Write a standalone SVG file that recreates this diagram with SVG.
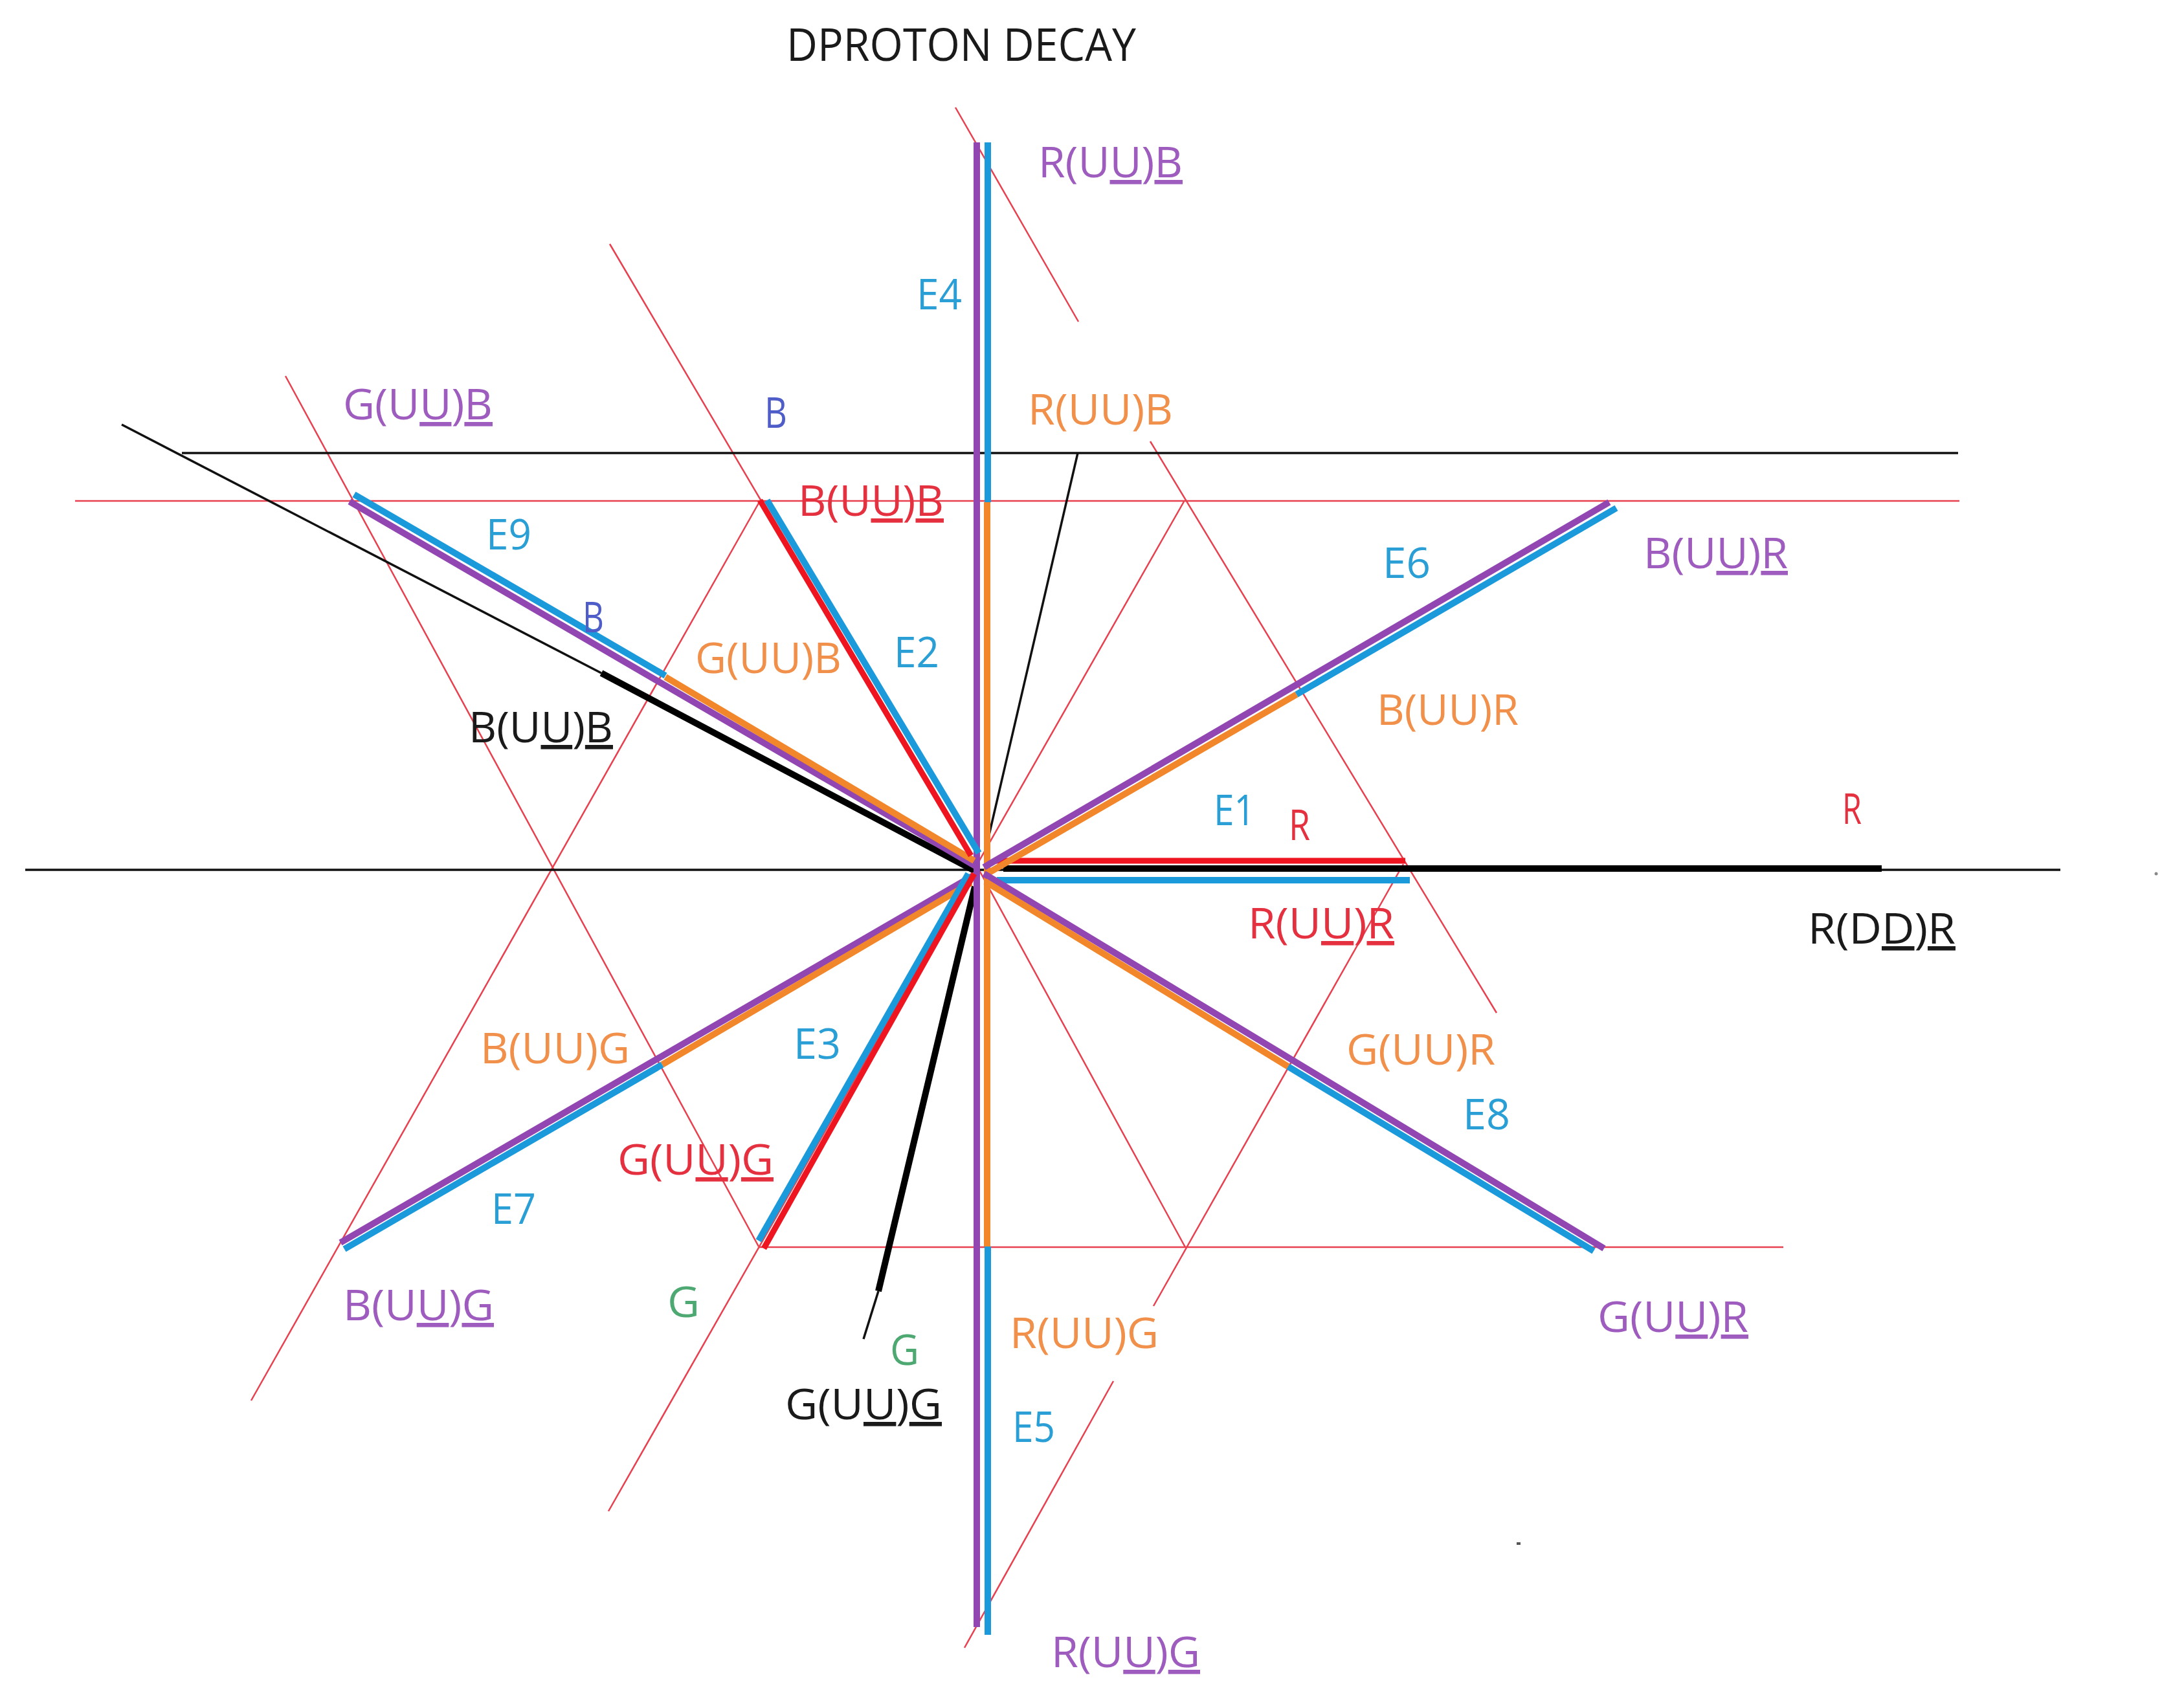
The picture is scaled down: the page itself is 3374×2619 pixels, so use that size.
<svg xmlns="http://www.w3.org/2000/svg" width="3374" height="2619" viewBox="0 0 3374 2619">
<style>
.tr2{stroke:#E8404F;stroke-width:2.5;fill:none}
.tk{stroke:#111;stroke-width:3.5;fill:none}
.pu{stroke:#9146B2;stroke-width:10}
.bl{stroke:#1B9ADB;stroke-width:10}
.or{stroke:#F2862A;stroke-width:10}
.rd{stroke:#EE1520;stroke-width:9}
.bk{stroke:#000;stroke-width:10}
text{font-family:"Open Sans","Noto Sans","Liberation Sans",sans-serif;font-size:66px}
.cp{fill:#9E5CBE}.cb{fill:#2A9FD6}.co{fill:#F0904A}.cr{fill:#E4303F}.ck{fill:#1A1A1A}.cv{fill:#4E5DC8}.cg{fill:#4DA872}
.u{text-decoration:underline}
</style>
<rect width="3374" height="2619" fill="#fff"/>
<g id="connectors">
 <g id="guides-red">
  <line class="tr2" x1="116" y1="774" x2="3027" y2="774"/>
  <line class="tr2" x1="1172" y1="1927" x2="2755" y2="1927"/>
  <line class="tr2" x1="441" y1="581" x2="1172" y2="1926"/>
  <polyline class="tr2" points="942,377 1176,774 1513,1345 1831,1927"/>
  <line class="tr2" x1="1476" y1="166" x2="1666" y2="497"/>
  <line class="tr2" x1="1777" y1="682" x2="2312" y2="1565"/>
  <line class="tr2" x1="388" y1="2164" x2="1174" y2="774"/>
  <line class="tr2" x1="940" y1="2335" x2="1829" y2="775"/>
  <line class="tr2" x1="2168" y1="1335" x2="1782" y2="2018"/>
  <line class="tr2" x1="1720" y1="2134" x2="1490" y2="2546"/>
 </g>
 <g id="guides-black">
  <line class="tk" x1="281" y1="700" x2="3025" y2="700"/>
  <line class="tk" x1="39" y1="1344" x2="3183" y2="1344"/>
  <line class="tk" x1="188" y1="656" x2="929" y2="1040"/>
  <line class="tk" x1="1665" y1="700" x2="1528" y2="1290"/>
  <line class="tk" x1="1357" y1="1995" x2="1334" y2="2069"/>
 </g>
 <g id="rays">
  <line class="bk" x1="929" y1="1040" x2="1505" y2="1345"/>
  <line class="bk" x1="1506" y1="1370" x2="1357" y2="1995"/>
  <line class="bk" x1="1550" y1="1342" x2="2907" y2="1342"/>
  <line class="rd" x1="1537" y1="1330" x2="2171" y2="1330"/>
  <line class="bl" x1="1540" y1="1360" x2="2178" y2="1360"/>
  <line class="pu" x1="1509" y1="220" x2="1509" y2="2514"/>
  <line class="bl" x1="1526" y1="220" x2="1526" y2="776"/>
  <line class="or" x1="1525" y1="776" x2="1525" y2="1926"/>
  <line class="bl" x1="1526" y1="1926" x2="1526" y2="2526"/>
  <line class="pu" x1="1520" y1="1340" x2="2486" y2="776"/>
  <line class="or" x1="1525" y1="1350" x2="2003" y2="1073"/>
  <line class="bl" x1="2003" y1="1073" x2="2497" y2="785"/>
  <line class="pu" x1="1520" y1="1350" x2="2478" y2="1929"/>
  <line class="or" x1="1522" y1="1362" x2="1990" y2="1648"/>
  <line class="bl" x1="1990" y1="1648" x2="2462" y2="1933"/>
  <line class="pu" x1="1505" y1="1352" x2="526" y2="1920"/>
  <line class="or" x1="1500" y1="1364" x2="1023" y2="1645"/>
  <line class="bl" x1="1023" y1="1645" x2="532" y2="1930"/>
  <line class="pu" x1="540" y1="775" x2="1510" y2="1340"/>
  <line class="bl" x1="547" y1="764" x2="1028" y2="1044"/>
  <line class="or" x1="1028" y1="1046" x2="1505" y2="1330"/>
  <line class="rd" x1="1174" y1="773" x2="1500" y2="1322"/>
  <line class="bl" x1="1185" y1="773" x2="1512" y2="1318"/>
  <line class="bl" x1="1496" y1="1350" x2="1172" y2="1917"/>
  <line class="rd" x1="1505" y1="1350" x2="1180" y2="1929"/>
 </g>
 <g id="marks">
  <circle cx="3331" cy="1350" r="2.5" fill="#888"/>
  <rect x="2343" y="2383" width="6" height="4" fill="#555"/>
 </g>
</g>
<g id="title"><text class="ck" x="1215" y="94" font-size="70" textLength="540" lengthAdjust="spacingAndGlyphs" style="font-size:70px">DPROTON DECAY</text></g>
<g id="labels">
 <g id="l-RUUB-top"><text class="cp" x="1604" y="274" textLength="223" lengthAdjust="spacingAndGlyphs">R(U<tspan class="u">U</tspan>)<tspan class="u">B</tspan></text></g>
 <g id="l-E4"><text class="cb" x="1416" y="478" textLength="70" lengthAdjust="spacingAndGlyphs">E4</text></g>
 <g id="l-GUUB-p"><text class="cp" x="530" y="648" textLength="231" lengthAdjust="spacingAndGlyphs">G(U<tspan class="u">U</tspan>)<tspan class="u">B</tspan></text></g>
 <g id="l-B1"><text class="cv" x="1181" y="661" textLength="35" lengthAdjust="spacingAndGlyphs">B</text></g>
 <g id="l-RUUB-o"><text class="co" x="1588" y="656" textLength="224" lengthAdjust="spacingAndGlyphs">R(UU)B</text></g>
 <g id="l-BUUB-r"><text class="cr" x="1233" y="797" textLength="225" lengthAdjust="spacingAndGlyphs">B(U<tspan class="u">U</tspan>)<tspan class="u">B</tspan></text></g>
 <g id="l-E9"><text class="cb" x="751" y="849" textLength="70" lengthAdjust="spacingAndGlyphs">E9</text></g>
 <g id="l-B2"><text class="cv" x="900" y="977" textLength="33" lengthAdjust="spacingAndGlyphs">B</text></g>
 <g id="l-GUUB-o"><text class="co" x="1074" y="1040" textLength="226" lengthAdjust="spacingAndGlyphs">G(UU)B</text></g>
 <g id="l-E2"><text class="cb" x="1381" y="1031" textLength="70" lengthAdjust="spacingAndGlyphs">E2</text></g>
 <g id="l-BUUB-k"><text class="ck" x="724" y="1147" textLength="223" lengthAdjust="spacingAndGlyphs">B(U<tspan class="u">U</tspan>)<tspan class="u">B</tspan></text></g>
 <g id="l-E6"><text class="cb" x="2136" y="893" textLength="74" lengthAdjust="spacingAndGlyphs">E6</text></g>
 <g id="l-BUUR-p"><text class="cp" x="2539" y="878" textLength="223" lengthAdjust="spacingAndGlyphs">B(U<tspan class="u">U</tspan>)<tspan class="u">R</tspan></text></g>
 <g id="l-BUUR-o"><text class="co" x="2127" y="1120" textLength="219" lengthAdjust="spacingAndGlyphs">B(UU)R</text></g>
 <g id="l-E1"><text class="cb" x="1875" y="1275" textLength="64" lengthAdjust="spacingAndGlyphs">E1</text></g>
 <g id="l-R1"><text class="cr" x="1991" y="1298" textLength="33" lengthAdjust="spacingAndGlyphs">R</text></g>
 <g id="l-R2"><text class="cr" x="2846" y="1273" textLength="30" lengthAdjust="spacingAndGlyphs">R</text></g>
 <g id="l-RDDR"><text class="ck" x="2793" y="1458" textLength="228" lengthAdjust="spacingAndGlyphs">R(D<tspan class="u">D</tspan>)<tspan class="u">R</tspan></text></g>
 <g id="l-RUUR"><text class="cr" x="1928" y="1450" textLength="226" lengthAdjust="spacingAndGlyphs">R(U<tspan class="u">U</tspan>)<tspan class="u">R</tspan></text></g>
 <g id="l-GUUR-o"><text class="co" x="2080" y="1645" textLength="230" lengthAdjust="spacingAndGlyphs">G(UU)R</text></g>
 <g id="l-E8"><text class="cb" x="2260" y="1745" textLength="73" lengthAdjust="spacingAndGlyphs">E8</text></g>
 <g id="l-GUUR-p"><text class="cp" x="2468" y="2058" textLength="233" lengthAdjust="spacingAndGlyphs">G(U<tspan class="u">U</tspan>)<tspan class="u">R</tspan></text></g>
 <g id="l-BUUG-o"><text class="co" x="742" y="1643" textLength="231" lengthAdjust="spacingAndGlyphs">B(UU)G</text></g>
 <g id="l-E3"><text class="cb" x="1226" y="1636" textLength="73" lengthAdjust="spacingAndGlyphs">E3</text></g>
 <g id="l-GUUG-r"><text class="cr" x="954" y="1815" textLength="241" lengthAdjust="spacingAndGlyphs">G(U<tspan class="u">U</tspan>)<tspan class="u">G</tspan></text></g>
 <g id="l-E7"><text class="cb" x="759" y="1891" textLength="69" lengthAdjust="spacingAndGlyphs">E7</text></g>
 <g id="l-BUUG-p"><text class="cp" x="530" y="2040" textLength="233" lengthAdjust="spacingAndGlyphs">B(U<tspan class="u">U</tspan>)<tspan class="u">G</tspan></text></g>
 <g id="l-G1"><text class="cg" x="1031" y="2035" textLength="50" lengthAdjust="spacingAndGlyphs">G</text></g>
 <g id="l-G2"><text class="cg" x="1375" y="2109" textLength="45" lengthAdjust="spacingAndGlyphs">G</text></g>
 <g id="l-GUUG-k"><text class="ck" x="1213" y="2193" textLength="242" lengthAdjust="spacingAndGlyphs">G(U<tspan class="u">U</tspan>)<tspan class="u">G</tspan></text></g>
 <g id="l-RUUG-o"><text class="co" x="1560" y="2083" textLength="230" lengthAdjust="spacingAndGlyphs">R(UU)G</text></g>
 <g id="l-E5"><text class="cb" x="1564" y="2228" textLength="66" lengthAdjust="spacingAndGlyphs">E5</text></g>
 <g id="l-RUUG-p"><text class="cp" x="1624" y="2576" textLength="230" lengthAdjust="spacingAndGlyphs">R(U<tspan class="u">U</tspan>)<tspan class="u">G</tspan></text></g>
</g>
</svg>
